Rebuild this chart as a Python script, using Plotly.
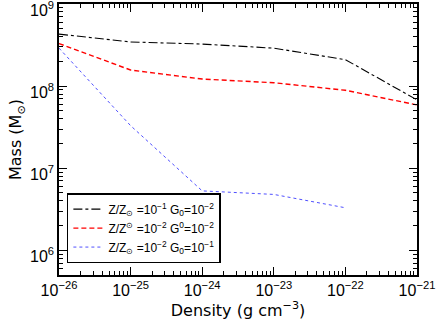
import plotly.graph_objects as go

density = [1e-26, 1e-25, 1e-24, 1e-23, 1e-22, 1e-21]

mass_z1_g2 = [4.3e8, 3.45e8, 3.25e8, 2.9e8, 2.1e8, 6.8e7]
mass_z2_g2 = [3.3e8, 1.57e8, 1.22e8, 1.1e8, 8.9e7, 5.9e7]
mass_z2_g1 = [2.9e8, 3.3e7, 5.3e6, 4.8e6, 3.3e6]

x_exps = [-26, -25, -24, -23, -22, -21]
y_exps = [6, 7, 8, 9]

names = [
    "Z/Z<sub>⊙</sub> =10<sup>−1</sup> G<sub>0</sub>=10<sup>−2</sup>",
    "Z/Z<sup>⊙</sup> =10<sup>−2</sup> G<sup>0</sup>=10<sup>−2</sup>",
    "Z/Z<sub>⊙</sub> =10<sup>−2</sup> G<sub>0</sub>=10<sup>−1</sup>",
]


def minor_vals(exps):
    lo, hi = min(exps) - 1, max(exps)
    return [m * 10.0 ** e for e in range(lo, hi + 1) for m in range(2, 10)]


def exp_label(e):
    return "10<sup>" + str(e).replace("-", "−") + "</sup>"


fig = go.Figure()
fig.add_trace(go.Scatter(x=density, y=mass_z1_g2, mode="lines", name=names[0],
                         line=dict(color="black", width=1.1, dash="dashdot")))
fig.add_trace(go.Scatter(x=density, y=mass_z2_g2, mode="lines", name=names[1],
                         line=dict(color="#ff0000", width=1.4, dash="5px,3px")))
fig.add_trace(go.Scatter(x=density[:5], y=mass_z2_g1, mode="lines", name=names[2],
                         line=dict(color="#5050ff", width=1.0, dash="dot")))

axis_common = dict(
    type="log", automargin=False, ticklabeloverflow="allow",
    showline=True, linecolor="black", linewidth=1.5, mirror="ticks",
    ticks="inside", ticklen=8, tickcolor="black",
    showgrid=False, zeroline=False,
    tickfont=dict(size=16, color="black"),
)
title_font = dict(family="DejaVu Sans, sans-serif", size=16, color="black")

fig.update_xaxes(
    axis_common, range=[-26, -21],
    tickmode="array", tickvals=[10.0 ** e for e in x_exps], ticktext=[exp_label(e) for e in x_exps],
    minor=dict(tickmode="array", tickvals=minor_vals(x_exps), ticks="inside", ticklen=4,
               tickcolor="black", showgrid=False),
    title=dict(text="Density (g cm<sup>−3</sup>)", font=title_font, standoff=4),
)
fig.update_yaxes(
    axis_common, range=[5.7, 9], ticklabelshift=6,
    tickmode="array", tickvals=[10.0 ** e for e in y_exps], ticktext=[exp_label(e) for e in y_exps],
    minor=dict(tickmode="array", tickvals=minor_vals(y_exps), ticks="inside", ticklen=4,
               tickcolor="black", showgrid=False),
    title=dict(text="Mass (M<sub>⊙</sub>)", font=title_font, standoff=4),
)

fig.update_layout(
    width=436, height=323,
    margin=dict(l=59, r=19, t=4, b=48),
    paper_bgcolor="white", plot_bgcolor="white",
    font=dict(family="Liberation Sans, Arial, sans-serif", color="black"),
    legend=dict(x=0.022, y=0.044, xanchor="left", yanchor="bottom",
                bordercolor="black", borderwidth=1.5, bgcolor="white",
                font=dict(size=12), itemwidth=30, tracegroupgap=0),
    showlegend=True,
)

fig.write_html("out.html", config={"displayModeBar": False},
               post_script="document.body.style.margin='0';")
